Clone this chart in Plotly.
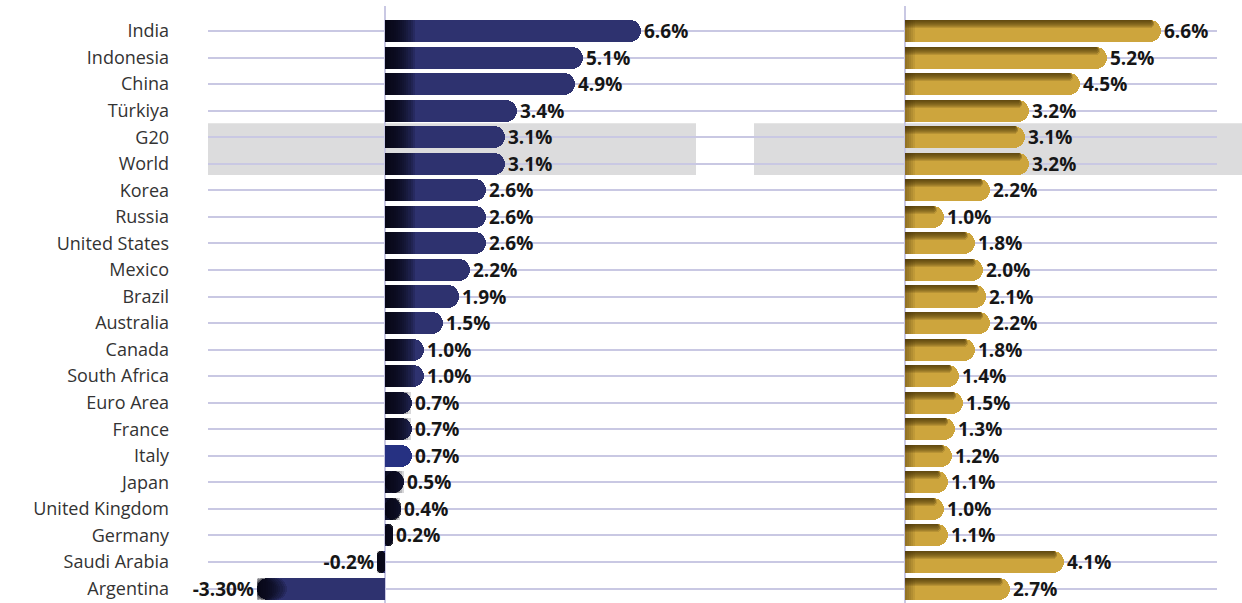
import plotly.graph_objects as go

# ---------------- data ----------------
countries = ["India", "Indonesia", "China", "Türkiya", "G20", "World", "Korea", "Russia",
             "United States", "Mexico", "Brazil", "Australia", "Canada", "South Africa",
             "Euro Area", "France", "Italy", "Japan", "United Kingdom", "Germany",
             "Saudi Arabia", "Argentina"]
left_values = [6.6, 5.1, 4.9, 3.4, 3.1, 3.1, 2.6, 2.6, 2.6, 2.2, 1.9, 1.5, 1.0, 1.0,
               0.7, 0.7, 0.7, 0.5, 0.4, 0.2, -0.2, -3.3]
left_labels = ["6.6%", "5.1%", "4.9%", "3.4%", "3.1%", "3.1%", "2.6%", "2.6%", "2.6%",
               "2.2%", "1.9%", "1.5%", "1.0%", "1.0%", "0.7%", "0.7%", "0.7%", "0.5%",
               "0.4%", "0.2%", "-0.2%", "-3.30%"]
right_values = [6.6, 5.2, 4.5, 3.2, 3.1, 3.2, 2.2, 1.0, 1.8, 2.0, 2.1, 2.2, 1.8, 1.4,
                1.5, 1.3, 1.2, 1.1, 1.0, 1.1, 4.1, 2.7]
right_labels = ["6.6%", "5.2%", "4.5%", "3.2%", "3.1%", "3.2%", "2.2%", "1.0%", "1.8%",
                "2.0%", "2.1%", "2.2%", "1.8%", "1.4%", "1.5%", "1.3%", "1.2%", "1.1%",
                "1.0%", "1.1%", "4.1%", "2.7%"]
band_countries = ["G20", "World"]
special_country = "Italy"

# ---------------- style / layout constants ----------------
W, H = 1242, 603
TOP = 6
PX = 38.8                      # pixels per percentage point
ROW = 26.55                    # pixels per category row
L0, R0 = 385, 905              # pixel position of zero on each panel
LD = (208, 760)                # left panel domain (px)
RD = (760, 1217)               # right panel domain (px)
BAR_W = 0.83
OFF = -BAR_W / 2
NAVY = "#2E326F"
ITALY = "#263182"
GOLD = "#CDA53D"
GRID = "#C9C8E3"
FONT = "Open Sans"
VAL_FONT = dict(family=FONT, size=19, color="#161616", weight="bold")

fig = go.Figure()

# ---------- left panel ----------
left_colors = [ITALY if c == special_country else NAVY for c in countries]
fig.add_trace(go.Bar(
    y=countries, x=left_values, orientation="h", xaxis="x", yaxis="y",
    width=BAR_W, offset=OFF, marker=dict(color=left_colors, cornerradius="50%", line_width=0),
    text=left_labels, textposition="outside", constraintext="none", cliponaxis=False,
    textfont=VAL_FONT, hoverinfo="skip", showlegend=False))

# horizontal dark gradient, starting at the left edge of each bar
N_STEPS, STEP, ALPHA = 14, 0.055, 0.16
shade = f"rgba(6,6,16,{ALPHA})"
for k in range(N_STEPS, 0, -1):
    w = k * STEP
    rx, rb, fx = [], [], []
    for c, v in zip(countries, left_values):
        if c == special_country:
            rx.append(None); rb.append(None); fx.append(None)
            continue
        if v >= 0:
            if v <= w:
                rx.append(v); rb.append(0); fx.append(None)
            else:
                rx.append(None); rb.append(None); fx.append(w)
        else:
            ww = min(w, -v)
            rx.append(-ww); rb.append(v + ww); fx.append(None)
    fig.add_trace(go.Bar(y=countries, x=rx, base=rb, orientation="h", xaxis="x", yaxis="y",
                         width=BAR_W, offset=OFF,
                         marker=dict(color=shade, cornerradius="50%", line_width=0),
                         hoverinfo="skip", showlegend=False))
    fig.add_trace(go.Bar(y=countries, x=fx, orientation="h", xaxis="x", yaxis="y",
                         width=BAR_W, offset=OFF, marker=dict(color=shade, line_width=0),
                         hoverinfo="skip", showlegend=False))

# ---------- right panel ----------
fig.add_trace(go.Bar(
    y=countries, x=right_values, orientation="h", xaxis="x2", yaxis="y",
    width=BAR_W, offset=OFF, marker=dict(color=GOLD, cornerradius="50%", line_width=0),
    text=right_labels, textposition="outside", constraintext="none", cliponaxis=False,
    textfont=VAL_FONT, hoverinfo="skip", showlegend=False))

# darker bevel along the top edge
radius_px = BAR_W * ROW / 2
for h in [1, 2, 3, 4, 5, 6, 7, 8]:
    xs = []
    for v in right_values:
        L = v - (radius_px - h / 2) / PX
        xs.append(L if L > 0 else None)
    fig.add_trace(go.Bar(y=countries, x=xs, orientation="h", xaxis="x2", yaxis="y",
                         width=h / ROW, offset=OFF,
                         marker=dict(color="rgba(70,50,8,0.16)", cornerradius="50%", line_width=0),
                         hoverinfo="skip", showlegend=False))
# darker left end near the axis
for wpx in [2, 4, 6, 8, 10]:
    fig.add_trace(go.Bar(y=countries, x=[min(wpx / PX, v) for v in right_values],
                         orientation="h", xaxis="x2", yaxis="y",
                         width=BAR_W, offset=OFF,
                         marker=dict(color="rgba(70,50,8,0.10)", line_width=0),
                         hoverinfo="skip", showlegend=False))

# ---------- highlight bands ----------
i0 = countries.index(band_countries[0])
i1 = countries.index(band_countries[-1])
for x0, x1 in [(208, 696), (754, 1242)]:
    fig.add_shape(type="rect", xref="paper", yref="y", x0=x0 / W, x1=x1 / W,
                  y0=i0 - 0.53, y1=i1 + 0.42, fillcolor="#DCDCDD", line_width=0,
                  layer="below")

# ---------- axes ----------
def xr(dom, zero):
    return [(dom[0] - zero) / PX, (dom[1] - zero) / PX]

axis_common = dict(showgrid=False, showticklabels=False, ticks="", showline=False,
                   zeroline=True, zerolinecolor=GRID, zerolinewidth=1.5, fixedrange=True)
plot_h = H - TOP
top_idx = -(31 - TOP) / ROW
bot_idx = top_idx + plot_h / ROW

fig.update_layout(
    width=W, height=H,
    margin=dict(l=0, r=0, t=TOP, b=0, pad=0),
    paper_bgcolor="white", plot_bgcolor="rgba(0,0,0,0)",
    barmode="overlay", bargap=0, showlegend=False,
    xaxis=dict(domain=[LD[0] / W, LD[1] / W], range=xr(LD, L0), anchor="y", **axis_common),
    xaxis2=dict(domain=[RD[0] / W, RD[1] / W], range=xr(RD, R0), anchor="y", **axis_common),
    yaxis=dict(type="category", categoryorder="array", categoryarray=countries,
               range=[bot_idx, top_idx], showgrid=True, gridcolor=GRID, gridwidth=1.5,
               zeroline=False, showline=False, ticks="", ticklabelstandoff=38,
               tickfont=dict(family=FONT, size=18, color="#333333"), fixedrange=True),
    font=dict(family=FONT),
)

fig.write_html("out.html")
